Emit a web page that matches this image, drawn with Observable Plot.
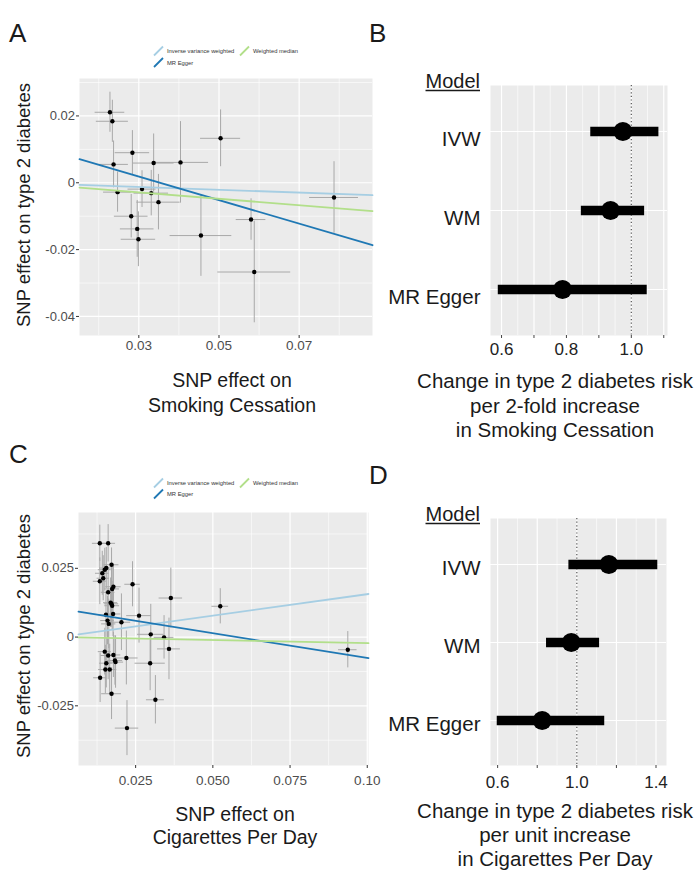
<!DOCTYPE html>
<html><head><meta charset="utf-8">
<script src="https://cdn.jsdelivr.net/npm/d3@7"></script>
<script src="https://cdn.jsdelivr.net/npm/@observablehq/plot@0.6"></script>
<style>
html,body{margin:0;padding:0;background:#fff;}
#fig{position:relative;width:699px;height:872px;overflow:hidden;font-family:"Liberation Sans",Arial,Helvetica,sans-serif;}
#fig .panel{position:absolute;}
#overlay{position:absolute;left:0;top:0;pointer-events:none;}
</style></head><body><div id="fig"></div>
<script>
// ---------- shared ----------
const methods = ["Inverse variance weighted", "MR Egger", "Weighted median"];
const methodColors = ["#a6cee3", "#1f78b4", "#b2df8a"];
const models = ["IVW", "WM", "MR Egger"];
const nullValue = 1;

// ---------- Panel A: Smoking Cessation (SNP scatter) ----------
const aX   = [0.0228, 0.0234, 0.0237, 0.0247, 0.0284, 0.0308, 0.0337, 0.0404, 0.0504, 0.0331, 0.0349, 0.0281, 0.0296, 0.0299, 0.0455, 0.0580, 0.0588, 0.0787];
const aY   = [0.0211, 0.0184, 0.0055, -0.0028, 0.0090, -0.0019, 0.0059, 0.0061, 0.0133, -0.0031, -0.0058, -0.0100, -0.0138, -0.0169, -0.0158, -0.0110, -0.0267, -0.0044];
const aSeX = [0.0037, 0.0040, 0.0037, 0.0035, 0.0043, 0.0035, 0.0051, 0.0070, 0.0050, 0.0043, 0.0054, 0.0042, 0.0042, 0.0043, 0.0077, 0.0037, 0.0091, 0.0061];
const aSeY = [0.0060, 0.0063, 0.0070, 0.0060, 0.0066, 0.0055, 0.0087, 0.0122, 0.0085, 0.0068, 0.0083, 0.0065, 0.0085, 0.0082, 0.0122, 0.0062, 0.0152, 0.0107];
const aSlopes = [-0.042, -0.352, -0.096];
const aIntercepts = [0, 0.0124, 0];
const aXDomain = [0.0152, 0.0883];
const aYDomain = [-0.0457, 0.0312];
const aXTicks = [0.03, 0.05, 0.07];
const aXTickLabels = ["0.03", "0.05", "0.07"];
const aXMinor = [0.02, 0.04, 0.06, 0.08];
const aYTicks = [-0.04, -0.02, 0, 0.02];
const aYTickLabels = ["-0.04", "-0.02", "0", "0.02"];
const aYMinor = [-0.03, -0.01, 0.01, 0.03];

// ---------- Panel B: forest, per 2-fold increase in Smoking Cessation ----------
const bEstimate = [0.974, 0.936, 0.788];
const bLower    = [0.875, 0.846, 0.590];
const bUpper    = [1.085, 1.041, 1.049];
const bXDomain = [0.566, 1.1115];
const bXTicks = [0.6, 0.7, 0.8, 0.9, 1.0, 1.1];
const bXTickLabels = ["0.6", "", "0.8", "", "1.0", ""];
const bXMinor = [0.65, 0.75, 0.85, 0.95, 1.05];

// ---------- Panel C: Cigarettes Per Day (SNP scatter) ----------
const cX   = [0.0134, 0.0161, 0.0172, 0.0155, 0.0150, 0.0142, 0.0145, 0.0134, 0.0178, 0.0174, 0.0240, 0.0161, 0.0364, 0.0172, 0.0174, 0.0169, 0.0177, 0.0154, 0.0261, 0.0159, 0.0163, 0.0204, 0.0299, 0.0342, 0.0358, 0.0150, 0.0161, 0.0178, 0.0183, 0.0185, 0.0220, 0.0155, 0.0297, 0.0152, 0.0166, 0.0135, 0.0172, 0.0314, 0.0222, 0.0524, 0.0937];
const cY   = [0.0341, 0.0341, 0.0263, 0.0251, 0.0245, 0.0232, 0.0214, 0.0203, 0.0183, 0.0175, 0.0192, 0.0163, 0.0142, 0.0121, 0.0114, 0.0125, 0.0084, 0.0081, 0.0078, 0.0060, 0.0048, 0.0054, 0.0010, -0.0001, -0.0043, -0.0053, -0.0067, -0.0065, -0.0085, -0.0091, -0.0076, -0.0095, -0.0095, -0.0118, -0.0118, -0.0148, -0.0206, -0.0228, -0.0331, 0.0112, -0.0046];
const cSeX = [0.0024, 0.0024, 0.0024, 0.0022, 0.0021, 0.0022, 0.0020, 0.0021, 0.0025, 0.0024, 0.0025, 0.0022, 0.0038, 0.0023, 0.0024, 0.0023, 0.0025, 0.0022, 0.0040, 0.0022, 0.0023, 0.0030, 0.0043, 0.0032, 0.0037, 0.0021, 0.0023, 0.0024, 0.0025, 0.0026, 0.0038, 0.0022, 0.0049, 0.0022, 0.0023, 0.0021, 0.0032, 0.0029, 0.0038, 0.0027, 0.0030];
const cSeY = [0.0066, 0.0068, 0.0061, 0.0075, 0.0078, 0.0080, 0.0082, 0.0085, 0.0080, 0.0078, 0.0082, 0.0090, 0.0109, 0.0085, 0.0088, 0.0090, 0.0082, 0.0085, 0.0100, 0.0088, 0.0090, 0.0103, 0.0109, 0.0079, 0.0112, 0.0085, 0.0088, 0.0082, 0.0090, 0.0095, 0.0098, 0.0090, 0.0100, 0.0088, 0.0092, 0.0090, 0.0094, 0.0088, 0.0100, 0.0064, 0.0066];
const cSlopes = [0.156, -0.180, -0.022];
const cIntercepts = [0, 0.0104, 0];
const cXDomain = [0.0065, 0.1004];
const cYDomain = [-0.0467, 0.0453];
const cXTicks = [0.025, 0.05, 0.075, 0.1];
const cXTickLabels = ["0.025", "0.050", "0.075", "0.10"];
const cXMinor = [0.0125, 0.0375, 0.0625, 0.0875];
const cYTicks = [-0.025, 0, 0.025];
const cYTickLabels = ["-0.025", "0", "0.025"];
const cYMinor = [-0.0375, -0.0125, 0.0125, 0.0375];

// ---------- Panel D: forest, per unit increase in Cigarettes Per Day ----------
const dEstimate = [1.162, 0.972, 0.825];
const dLower    = [0.960, 0.847, 0.598];
const dUpper    = [1.409, 1.115, 1.141];
const dXDomain = [0.564, 1.453];
const dXTicks = [0.6, 0.8, 1.0, 1.2, 1.4];
const dXTickLabels = ["0.6", "", "1.0", "", "1.4"];
const dXMinor = [0.7, 0.9, 1.1, 1.3];

// ---------- drawing ----------
const FONT = '"Liberation Sans", Arial, Helvetica, sans-serif';
const BG = "#ebebeb";
const fig = document.getElementById("fig");

function place(node, left, top) {
  const d = document.createElement("div");
  d.className = "panel";
  d.style.left = left + "px";
  d.style.top = top + "px";
  d.appendChild(node);
  fig.appendChild(d);
}

function scatterPanel(c) {
  const pts = c.xs.map((x, i) => ({x, y: c.ys[i], sx: c.sx[i], sy: c.sy[i]}));
  const lines = [];
  methods.forEach((m, i) => c.xDomain.forEach(x => lines.push({method: m, x, y: c.intercepts[i] + c.slopes[i] * x})));
  return Plot.plot({
    width: c.width, height: c.height,
    marginLeft: c.ml, marginRight: c.mr, marginTop: c.mt, marginBottom: c.mb,
    style: {fontFamily: FONT, background: "transparent", overflow: "visible"},
    x: {domain: c.xDomain, label: null},
    y: {domain: c.yDomain, label: null},
    color: {domain: methods, range: methodColors},
    marks: [
      Plot.frame({fill: BG, stroke: "none"}),
      Plot.gridX(c.xMinor, {stroke: "white", strokeOpacity: 1, strokeWidth: 0.6}),
      Plot.gridY(c.yMinor, {stroke: "white", strokeOpacity: 1, strokeWidth: 0.6}),
      Plot.gridX(c.xTicks, {stroke: "white", strokeOpacity: 1, strokeWidth: 1.2}),
      Plot.gridY(c.yTicks, {stroke: "white", strokeOpacity: 1, strokeWidth: 1.2}),
      Plot.ruleX(pts, {x: "x", y1: d => d.y - d.sy, y2: d => d.y + d.sy, stroke: "#a8a8a8", strokeWidth: 1}),
      Plot.ruleY(pts, {y: "y", x1: d => d.x - d.sx, x2: d => d.x + d.sx, stroke: "#a8a8a8", strokeWidth: 1}),
      Plot.dot(pts, {x: "x", y: "y", r: 2.2, fill: "black"}),
      Plot.line(lines, {x: "x", y: "y", z: "method", stroke: "method", strokeWidth: 1.8}),
      Plot.axisX(c.xTicks, {label: null, tickFormat: d => c.xTickLabels[c.xTicks.indexOf(d)], tickSize: 3, tickPadding: c.xPad, fontSize: 13.5, fill: "#4d4d4d", stroke: "#333"}),
      Plot.axisY(c.yTicks, {label: null, tickFormat: d => c.yTickLabels[c.yTicks.indexOf(d)], tickSize: 3, tickPadding: 1.5, fontSize: 13, fill: "#4d4d4d", stroke: "#333"})
    ]
  });
}

function forestPanel(c) {
  const rows = models.map((m, i) => ({model: m, est: c.est[i], lo: c.lo[i], hi: c.hi[i]}));
  return Plot.plot({
    width: c.width, height: c.height,
    marginLeft: c.ml, marginRight: c.mr, marginTop: c.mt, marginBottom: c.mb,
    style: {fontFamily: FONT, background: "transparent", overflow: "visible"},
    x: {domain: c.xDomain, label: null},
    y: {type: "point", domain: models, padding: 0.58, axis: null, label: null},
    marks: [
      Plot.frame({fill: BG, stroke: "none"}),
      Plot.gridX(c.xMinor, {stroke: "white", strokeOpacity: 1, strokeWidth: 0.6}),
      Plot.gridX(c.xTicks, {stroke: "white", strokeOpacity: 1, strokeWidth: 1.2}),
      Plot.gridY(models, {stroke: "white", strokeOpacity: 1, strokeWidth: 1.2}),
      Plot.ruleX([nullValue], {stroke: "#555", strokeDasharray: "1.2,2.4", strokeWidth: 1.2}),
      Plot.ruleY(rows, {y: "model", x1: "lo", x2: "hi", stroke: "black", strokeWidth: 9.5}),
      Plot.dot(rows, {x: "est", y: "model", r: 9.5, fill: "black"}),
      Plot.axisX(c.xTicks, {label: null, tickFormat: d => c.xTickLabels[c.xTicks.indexOf(d)], tickSize: 3, tickPadding: c.xPad, fontSize: 17, fill: "#222", stroke: "#444"}),
      Plot.text(models, {y: d => d, text: d => d, frameAnchor: "left", textAnchor: "end", dx: -10, dy: c.labelDy, fontSize: 20.5, fill: "#1a1a1a"})
    ]
  });
}

place(scatterPanel({xs: aX, ys: aY, sx: aSeX, sy: aSeY, slopes: aSlopes, intercepts: aIntercepts,
  xDomain: aXDomain, yDomain: aYDomain, xTicks: aXTicks, xTickLabels: aXTickLabels, xMinor: aXMinor,
  yTicks: aYTicks, yTickLabels: aYTickLabels, yMinor: aYMinor,
  width: 380, height: 290, ml: 79, mr: 8, mt: 8, mb: 25, xPad: 2}), 0, 70);

place(forestPanel({est: bEstimate, lo: bLower, hi: bUpper, xDomain: bXDomain, xTicks: bXTicks,
  xTickLabels: bXTickLabels, xMinor: bXMinor, width: 319, height: 295, ml: 110, mr: 32, mt: 15, mb: 30,
  xPad: 4, labelDy: 8}), 380, 70);

place(scatterPanel({xs: cX, ys: cY, sx: cSeX, sy: cSeY, slopes: cSlopes, intercepts: cIntercepts,
  xDomain: cXDomain, yDomain: cYDomain, xTicks: cXTicks, xTickLabels: cXTickLabels, xMinor: cXMinor,
  yTicks: cYTicks, yTickLabels: cYTickLabels, yMinor: cYMinor,
  width: 380, height: 295, ml: 78, mr: 12, mt: 12, mb: 30, xPad: 7}), 0, 500);

place(forestPanel({est: dEstimate, lo: dLower, hi: dUpper, xDomain: dXDomain, xTicks: dXTicks,
  xTickLabels: dXTickLabels, xMinor: dXMinor, width: 319, height: 295, ml: 110, mr: 33, mt: 18, mb: 30,
  xPad: 7, labelDy: 4}), 380, 500);

// ---------- titles, labels, legends ----------
const ov = d3.select("#fig").append("svg").attr("id", "overlay")
  .attr("width", 699).attr("height", 872).style("font-family", FONT);

function txt(t, x, y, size, anchor = "start", fill = "#1a1a1a", rot = 0) {
  const el = ov.append("text").attr("font-size", size).attr("fill", fill).attr("text-anchor", anchor).text(t);
  if (rot) el.attr("transform", `translate(${x},${y}) rotate(${rot})`);
  else el.attr("x", x).attr("y", y);
  return el;
}

// panel letters
txt("A", 9, 42, 26); txt("B", 369, 42, 26);
txt("C", 9, 463, 26); txt("D", 369, 484, 26);

// scatter axis titles
txt("SNP effect on type 2 diabetes", 30, 205, 18.5, "middle", "#1a1a1a", -90);
txt("SNP effect on", 232, 387, 19.5, "middle");
txt("Smoking Cessation", 232, 412, 19.5, "middle");
txt("SNP effect on type 2 diabetes", 30, 636, 18.5, "middle", "#1a1a1a", -90);
txt("SNP effect on", 235, 821, 19.5, "middle");
txt("Cigarettes Per Day", 235, 844, 19.5, "middle");

// forest "Model" headers and titles
function model(y) {
  const t = txt("Model", 480, y, 20, "end");
  const w = t.node().getComputedTextLength();
  ov.append("line").attr("x1", 480 - w).attr("x2", 480).attr("y1", y + 2.5).attr("y2", y + 2.5)
    .attr("stroke", "#1a1a1a").attr("stroke-width", 1.3);
}
model(88); model(521);
txt("Change in type 2 diabetes risk", 555, 388, 20.5, "middle");
txt("per 2-fold increase", 555, 413, 20.5, "middle");
txt("in Smoking Cessation", 555, 437, 20.5, "middle");
txt("Change in type 2 diabetes risk", 555, 818, 20.5, "middle");
txt("per unit increase", 555, 842, 20.5, "middle");
txt("in Cigarettes Per Day", 555, 866, 20.5, "middle");

// legends
function legend(y1, y2) {
  const key = (x, y, color) => ov.append("line").attr("x1", x).attr("y1", y + 4.5).attr("x2", x + 9).attr("y2", y - 4.5)
    .attr("stroke", color).attr("stroke-width", 1.8);
  key(154, y1, methodColors[0]); txt(methods[0], 167, y1 + 2, 5.8, "start", "#333");
  key(240, y1, methodColors[2]); txt(methods[2], 253, y1 + 2, 5.8, "start", "#333");
  key(154, y2, methodColors[1]); txt(methods[1], 167, y2 + 2, 5.8, "start", "#333");
}
legend(51, 62.5);
legend(483, 494);
</script></body></html>
